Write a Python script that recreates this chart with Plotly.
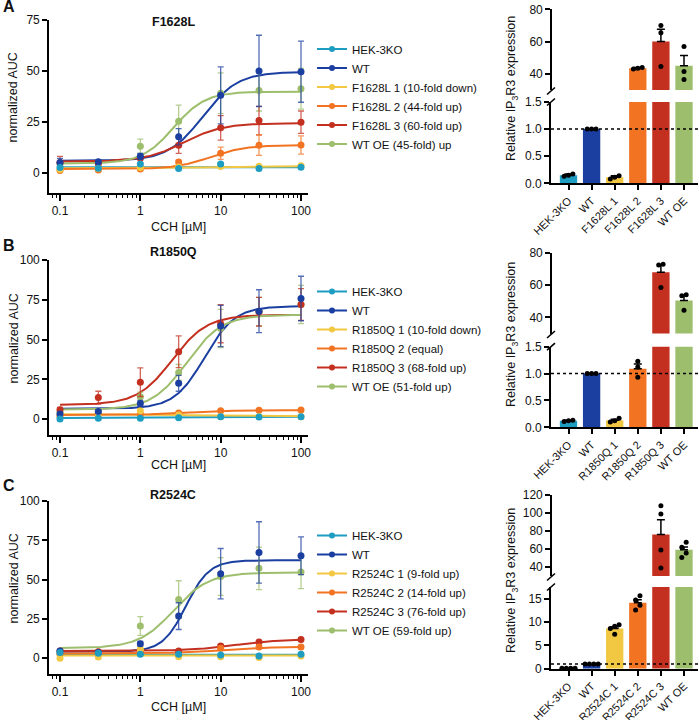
import numpy as np
import plotly.graph_objects as go

W, H = 699, 720
FONT = "Liberation Sans, Arial, sans-serif"

# ---------------- data ----------------
CONC = [0.1, 0.3, 1, 3, 10, 30, 100]
COLORS = ["#1E9DC3", "#1B3FA0", "#F2C842", "#F27423", "#C4301F", "#9DBE6C"]

# Panel A : F1628L
A_LABELS = ["HEK-3KO", "WT", "F1628L 1 (10-fold down)", "F1628L 2 (44-fold up)",
            "F1628L 3 (60-fold up)", "WT OE (45-fold) up"]
A_MEANS = [[2.5, 2.2, 4.2, 2.0, 4.3, 2.0, 2.6],
           [5.0, 5.3, 8.0, 17.6, 38.0, 50.0, 49.6],
           [1.5, 2.0, 2.5, 2.8, 3.0, 3.2, 3.4],
           [1.0, 1.3, 1.8, 5.2, 9.5, 13.5, 13.6],
           [5.0, 4.6, 7.2, 13.5, 22.0, 25.6, 24.8],
           [4.3, 5.0, 13.0, 25.2, 39.0, 40.3, 41.2]]
A_ERRS = [[0.5, 0.5, 0.5, 0.5, 0.5, 0.5, 0.5],
          [2.0, 1.0, 1.5, 4.0, 14.0, 17.5, 15.0],
          [0.5, 0.5, 0.5, 0.5, 0.5, 0.5, 0.5],
          [0.5, 0.5, 0.5, 1.0, 3.0, 5.0, 4.5],
          [3.0, 1.0, 1.0, 4.0, 6.0, 7.0, 5.5],
          [1.0, 1.0, 3.5, 8.0, 10.0, 10.0, 10.0]]
# fitted curve parameters: bottom, top, EC50, Hill slope
A_FITS = [[2.7, 2.7, 1.0, 1.0],
          [5.8, 49.5, 6.0, 2.0],
          [2.2, 3.3, 10.0, 1.0],
          [1.8, 13.5, 7.5, 2.0],
          [5.5, 24.3, 3.5, 1.8],
          [4.5, 39.8, 2.6, 2.2]]

# Panel B : R1850Q
B_LABELS = ["HEK-3KO", "WT", "R1850Q 1 (10-fold down)", "R1850Q 2 (equal)",
            "R1850Q 3 (68-fold up)", "WT OE (51-fold up)"]
B_MEANS = [[0.0, 0.6, 0.5, 0.8, 1.5, 1.3, 1.5],
           [3.2, 4.8, 9.8, 22.5, 58.5, 67.8, 75.8],
           [2.5, 1.5, 5.3, 2.5, 1.5, 1.5, 1.5],
           [1.5, 2.2, 3.0, 3.8, 5.2, 5.6, 5.7],
           [5.8, 13.5, 23.2, 42.3, 60.0, 67.5, 72.0],
           [4.5, 4.5, 14.0, 29.3, 57.0, 67.5, 72.0]]
B_ERRS = [[0.5, 0.5, 0.5, 0.5, 0.5, 0.5, 0.5],
          [1.0, 1.0, 2.0, 5.0, 13.0, 13.5, 14.0],
          [0.5, 0.5, 1.0, 0.5, 0.5, 0.5, 0.5],
          [0.5, 0.5, 0.5, 0.5, 0.5, 0.5, 0.5],
          [1.5, 4.0, 9.0, 10.0, 12.0, 9.0, 10.0],
          [1.0, 1.0, 3.0, 5.0, 12.0, 9.0, 12.0]]
B_FITS = [[0.6, 1.5, 5.0, 1.0],
          [6.5, 71.0, 6.3, 2.3],
          [3.0, 1.8, 5.0, 1.0],
          [2.5, 5.6, 4.0, 1.5],
          [9.0, 65.5, 2.5, 2.0],
          [6.0, 65.5, 3.8, 2.0]]

# Panel C : R2524C
C_LABELS = ["HEK-3KO", "WT", "R2524C 1 (9-fold up)", "R2524C 2 (14-fold up)",
            "R2524C 3 (76-fold up)", "WT OE (59-fold up)"]
C_MEANS = [[3.6, 3.2, 2.5, 2.5, 2.1, 1.5, 2.5],
           [4.6, 3.6, 9.3, 26.8, 53.8, 67.3, 65.2],
           [0.0, 0.8, 5.7, 1.0, 1.0, 0.5, 1.5],
           [3.0, 3.5, 4.6, 2.0, 6.3, 7.2, 7.2],
           [4.6, 4.2, 4.5, 4.7, 7.8, 10.3, 12.0],
           [2.5, 4.0, 20.5, 37.3, 52.0, 57.2, 54.8]]
C_ERRS = [[0.5, 0.5, 0.5, 0.5, 0.5, 0.5, 0.5],
          [1.0, 1.0, 1.5, 8.5, 16.0, 19.5, 12.0],
          [0.5, 0.5, 0.5, 0.5, 0.5, 0.5, 0.5],
          [0.5, 0.5, 0.5, 0.5, 1.0, 1.0, 1.0],
          [0.5, 0.5, 0.5, 0.5, 1.0, 1.0, 1.0],
          [1.0, 1.0, 6.0, 12.0, 12.0, 13.5, 10.5]]
C_FITS = [[2.2, 2.2, 1.0, 1.0],
          [4.2, 62.3, 3.7, 3.0],
          [1.8, 1.8, 1.0, 1.0],
          [3.0, 7.3, 10.0, 1.5],
          [4.6, 12.2, 15.0, 1.5],
          [6.5, 54.5, 2.6, 2.0]]

# Bar charts: relative IP3R3 expression
BAR_A_CATS = ["HEK-3KO", "WT", "F1628L 1", "F1628L 2", "F1628L 3", "WT OE"]
BAR_A_MEANS = [0.15, 1.0, 0.11, 43.5, 60.0, 45.0]
BAR_A_SEM = [0.02, 0.0, 0.03, 0.4, 7.6, 6.4]
BAR_A_REPS = [[0.13, 0.15, 0.17], [1.0, 1.0, 1.0], [0.08, 0.11, 0.14],
              [43.0, 43.5, 44.0], [44.5, 65.5, 70.0], [36.5, 41.5, 57.0]]

BAR_B_CATS = ["HEK-3KO", "WT", "R1850Q 1", "R1850Q 2", "R1850Q 3", "WT OE"]
BAR_B_MEANS = [0.12, 1.0, 0.13, 1.09, 68.0, 50.5]
BAR_B_SEM = [0.01, 0.0, 0.02, 0.09, 4.7, 3.2]
BAR_B_REPS = [[0.11, 0.12, 0.13], [1.0, 1.0, 1.0], [0.10, 0.12, 0.17],
              [0.93, 1.12, 1.23], [58.5, 72.5, 73.0], [44.5, 53.5, 54.0]]

BAR_C_CATS = ["HEK-3KO", "WT", "R2524C 1", "R2524C 2", "R2524C 3", "WT OE"]
BAR_C_MEANS = [0.1, 1.0, 8.6, 14.1, 76.0, 59.3]
BAR_C_SEM = [0.02, 0.0, 0.4, 0.65, 16.5, 3.0]
BAR_C_REPS = [[0.1, 0.1, 0.1, 0.1], [1.0, 1.0, 1.0, 1.0], [7.4, 8.6, 9.1, 9.4],
              [12.6, 13.6, 14.7, 15.6], [38.8, 58.8, 99.0, 108.0], [50.5, 55.5, 62.0, 67.5]]


# ---------------- helpers ----------------
def X(p):
    return p / W


def Y(p):
    return 1 - p / H


def rgba(hexc, a):
    h = hexc.lstrip("#")
    return "rgba(%d,%d,%d,%.2f)" % (int(h[0:2], 16), int(h[2:4], 16), int(h[4:6], 16), a)


def logistic(xs, p):
    b, t, ec, hs = p
    return b + (t - b) / (1 + 10 ** ((np.log10(ec) - np.log10(xs)) * hs))


AX = dict(showline=True, linecolor="black", linewidth=1.6, ticks="outside", ticklen=5,
          tickwidth=1.6, tickcolor="black", showgrid=False, zeroline=False, automargin=False,
          tickfont=dict(size=12, color="#111", family=FONT))

fig = go.Figure()
layout = dict(template="none", width=W, height=H,
              margin=dict(l=0, r=0, t=0, b=0, pad=0, autoexpand=False),
              paper_bgcolor="white", plot_bgcolor="white",
              font=dict(family=FONT, color="#111"), showlegend=True)
annotations = []
shapes = []


def note(text, px, py, size=12.5, angle=0):
    return dict(text=text, x=X(px), y=Y(py), xref="paper", yref="paper", xanchor="center",
                yanchor="middle", showarrow=False, textangle=angle,
                font=dict(size=size, family=FONT, color="#111"))


MINOR = [0.08, 0.09] + [k * 0.1 for k in range(2, 10)] + list(range(2, 10)) + [k * 10 for k in range(2, 10)]

line_panels = [
    dict(n=1, labels=A_LABELS, means=A_MEANS, errs=A_ERRS, fits=A_FITS, title="F1628L", letter="A",
         ydom=(20, 193), yrange=[-10, 75], yticks=[0, 25, 50, 75], legend="legend",
         leg_top=34.5, letter_y=7, title_y=22, xt_y=227),
    dict(n=2, labels=B_LABELS, means=B_MEANS, errs=B_ERRS, fits=B_FITS, title="R1850Q", letter="B",
         ydom=(260, 435), yrange=[-10, 100], yticks=[0, 25, 50, 75, 100], legend="legend2",
         leg_top=277, letter_y=245, title_y=252, xt_y=465),
    dict(n=3, labels=C_LABELS, means=C_MEANS, errs=C_ERRS, fits=C_FITS, title="R2524C", letter="C",
         ydom=(501, 674), yrange=[-10, 100], yticks=[0, 25, 50, 75, 100], legend="legend3",
         leg_top=521, letter_y=485, title_y=495, xt_y=707),
]

XDOM = (49, 308)
xs_fit = np.logspace(-1, 2, 200)
for P in line_panels:
    n = P["n"]
    xa = "x" if n == 1 else "x%d" % n
    ya = "y" if n == 1 else "y%d" % n
    xkey = "xaxis" if n == 1 else "xaxis%d" % n
    ykey = "yaxis" if n == 1 else "yaxis%d" % n
    layout[xkey] = dict(AX, type="log", domain=[X(XDOM[0]), X(XDOM[1])], anchor=ya,
                        range=[-1 - 11 / 80.33, 2 + 7 / 80.33],
                        tickmode="array", tickvals=[0.1, 1, 10, 100], ticktext=["0.1", "1", "10", "100"],
                        ticklen=6,
                        minor=dict(tickmode="array", tickvals=MINOR, ticks="outside", ticklen=3,
                                   tickwidth=1.4, tickcolor="black"))
    layout[ykey] = dict(AX, domain=[Y(P["ydom"][1]), Y(P["ydom"][0])], anchor=xa,
                        range=P["yrange"], tickmode="array", tickvals=P["yticks"])
    # fitted curves
    for i in range(6):
        fig.add_trace(go.Scatter(x=xs_fit, y=logistic(xs_fit, P["fits"][i]), mode="lines",
                                 line=dict(color=COLORS[i], width=2), xaxis=xa, yaxis=ya,
                                 showlegend=False, hoverinfo="skip"))
    # points with error bars
    for i in reversed(range(6)):
        fig.add_trace(go.Scatter(x=CONC, y=P["means"][i], mode="markers",
                                 marker=dict(color=COLORS[i], size=7),
                                 error_y=dict(type="data", array=P["errs"][i], color=rgba(COLORS[i], 0.75),
                                              thickness=1.3, width=3),
                                 xaxis=xa, yaxis=ya, showlegend=False))
    # legend entries
    for i in range(6):
        fig.add_trace(go.Scatter(x=[None], y=[None], mode="lines+markers", name=P["labels"][i],
                                 line=dict(color=COLORS[i], width=2), marker=dict(color=COLORS[i], size=6),
                                 xaxis=xa, yaxis=ya, legend=P["legend"], showlegend=True))
    layout[P["legend"]] = dict(x=X(312), y=Y(P["leg_top"]), xanchor="left", yanchor="top",
                               font=dict(size=11.5, family=FONT, color="#111"),
                               bgcolor="rgba(0,0,0,0)", itemwidth=30, traceorder="normal")
    annotations += [
        note("<b>%s</b>" % P["letter"], 9, P["letter_y"], size=16),
        note("<b>%s</b>" % P["title"], 173, P["title_y"]),
        note("CCH [µM]", 178, P["xt_y"]),
        note("normalized AUC", 13, (P["ydom"][0] + P["ydom"][1]) / 2 - 9, angle=-90),
    ]

# ---------------- bar panels ----------------
bar_panels = [
    dict(lo=4, up=5, cats=BAR_A_CATS, means=BAR_A_MEANS, sem=BAR_A_SEM, reps=BAR_A_REPS, axis_px=551,
         lo_dom=(102, 183.3), up_dom=(9.3, 90), lo_range=[0, 1.5], up_range=[30, 80],
         lo_ticks=[0, 0.5, 1.0, 1.5], lo_fmt=".1f", up_ticks=[40, 60, 80], title_y=89),
    dict(lo=6, up=7, cats=BAR_B_CATS, means=BAR_B_MEANS, sem=BAR_B_SEM, reps=BAR_B_REPS, axis_px=551,
         lo_dom=(346.7, 427.3), up_dom=(253, 333.5), lo_range=[0, 1.5], up_range=[30, 80],
         lo_ticks=[0, 0.5, 1.0, 1.5], lo_fmt=".1f", up_ticks=[40, 60, 80], title_y=335),
    dict(lo=8, up=9, cats=BAR_C_CATS, means=BAR_C_MEANS, sem=BAR_C_SEM, reps=BAR_C_REPS, axis_px=551,
         lo_dom=(587, 668.7), up_dom=(495, 576), lo_range=[0, 17.5], up_range=[30, 120],
         lo_ticks=[0, 5, 10, 15], lo_fmt="", up_ticks=[40, 60, 80, 100, 120], title_y=581),
]

CAT0, CATSTEP, RIGHT = 568.5, 23.1, 698


def spread(vals, tol, step):
    order = np.argsort(vals)
    offs = [0.0] * len(vals)
    clusters, cur = [], [order[0]]
    for k in order[1:]:
        if abs(vals[k] - vals[cur[-1]]) <= tol:
            cur.append(k)
        else:
            clusters.append(cur)
            cur = [k]
    clusters.append(cur)
    for cl in clusters:
        m = len(cl)
        for j, k in enumerate(cl):
            offs[k] = (j - (m - 1) / 2) * step
    return offs


for P in bar_panels:
    lo, up = P["lo"], P["up"]
    xr = [(P["axis_px"] - CAT0) / CATSTEP, (RIGHT - CAT0) / CATSTEP]
    idx = list(range(len(P["cats"])))
    layout["xaxis%d" % lo] = dict(AX, domain=[X(P["axis_px"]), X(RIGHT)], anchor="y%d" % lo, range=xr,
                                  tickmode="array", tickvals=idx, ticktext=P["cats"], tickangle=-45,
                                  tickfont=dict(size=11, color="#111", family=FONT))
    layout["xaxis%d" % up] = dict(domain=[X(P["axis_px"]), X(RIGHT)], anchor="y%d" % up, range=xr,
                                  visible=False, matches="x%d" % lo)
    layout["yaxis%d" % lo] = dict(AX, domain=[Y(P["lo_dom"][1]), Y(P["lo_dom"][0])], anchor="x%d" % lo,
                                  range=P["lo_range"], tickmode="array", tickvals=P["lo_ticks"],
                                  tickformat=P["lo_fmt"])
    layout["yaxis%d" % up] = dict(AX, domain=[Y(P["up_dom"][1]), Y(P["up_dom"][0])], anchor="free",
                                  position=X(P["axis_px"]), range=P["up_range"], tickmode="array",
                                  tickvals=P["up_ticks"])
    segs = [(lo, P["lo_range"], P["lo_dom"]), (up, P["up_range"], P["up_dom"])]
    for ax, rng, dom in segs:
        fig.add_trace(go.Bar(x=idx, y=P["means"], width=0.75, marker=dict(color=COLORS, line=dict(width=0)),
                             xaxis="x%d" % ax, yaxis="y%d" % ax, showlegend=False))
    for ax, rng, dom in segs:
        sel = [i for i in idx if rng[0] <= P["means"][i] <= rng[1] and P["sem"][i] > 0]
        if sel:
            fig.add_trace(go.Scatter(x=sel, y=[P["means"][i] for i in sel], mode="markers",
                                     marker=dict(size=1, color="rgba(0,0,0,0)"),
                                     error_y=dict(type="data", symmetric=False,
                                                  array=[P["sem"][i] for i in sel],
                                                  arrayminus=[0] * len(sel), color="black",
                                                  thickness=1.5, width=4),
                                     xaxis="x%d" % ax, yaxis="y%d" % ax, showlegend=False))
        ppu = (dom[1] - dom[0]) / (rng[1] - rng[0])
        dx, dy = [], []
        for i in idx:
            vals = [v for v in P["reps"][i] if rng[0] <= v <= rng[1]]
            if not vals:
                continue
            offs = spread(vals, 5 / ppu, 0.19)
            dx += [i + o for o in offs]
            dy += vals
        if dx:
            fig.add_trace(go.Scatter(x=dx, y=dy, mode="markers", marker=dict(size=5, color="black"),
                                     xaxis="x%d" % ax, yaxis="y%d" % ax, showlegend=False, cliponaxis=False))
    # dotted reference line at 1
    shapes.append(dict(type="line", xref="x%d domain" % lo, x0=0, x1=1, yref="y%d" % lo, y0=1, y1=1,
                       line=dict(color="black", width=1.5, dash="dot")))
    # axis break marks
    for yb in (P["up_dom"][1] + 1, P["lo_dom"][0]):
        shapes.append(dict(type="line", xref="paper", yref="paper",
                           x0=X(P["axis_px"] - 4), y0=Y(yb + 3.5), x1=X(P["axis_px"] + 4), y1=Y(yb - 3.5),
                           line=dict(color="black", width=1.6)))
    annotations.append(note("Relative IP<sub>3</sub>R3 expression", 512, P["title_y"], angle=-90))

layout["annotations"] = annotations
layout["shapes"] = shapes
fig.update_layout(**layout)
fig.write_html("out.html", config={"displayModeBar": False},
               post_script="document.body.style.margin='0';")
